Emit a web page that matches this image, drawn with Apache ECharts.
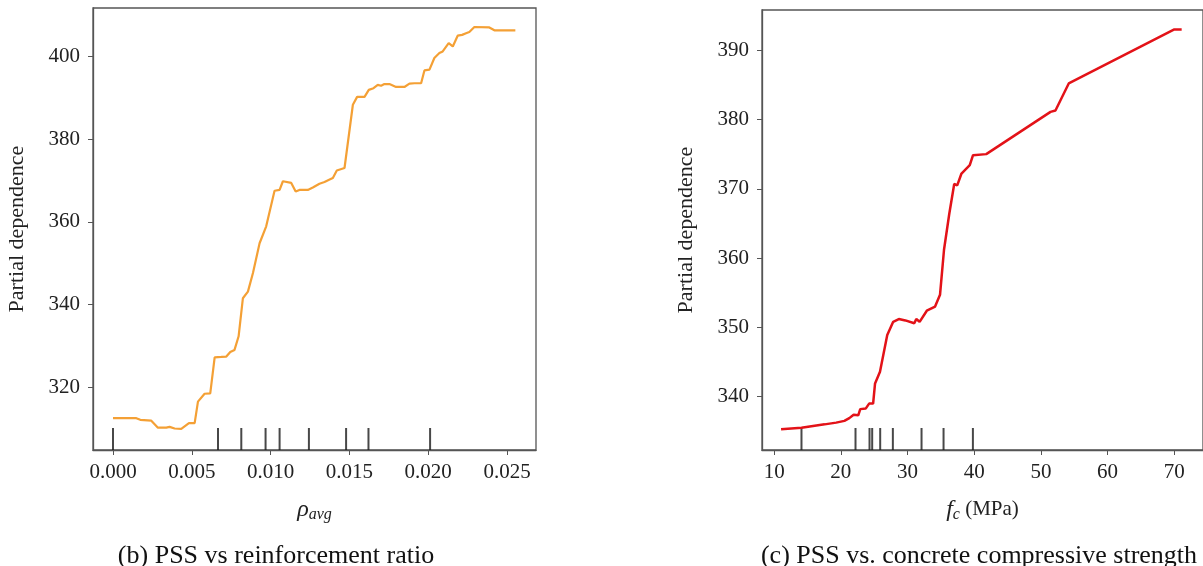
<!DOCTYPE html>
<html>
<head>
<meta charset="utf-8">
<script src="https://cdn.jsdelivr.net/npm/echarts@6/dist/echarts.min.js"></script>
<style>
  html, body { margin: 0; padding: 0; background: #fff; }
  #main { width: 1203px; height: 566px; }
</style>
</head>
<body>
<div id="main"></div>
<script>
// (b) partial dependence vs reinforcement ratio
var rhoX = [0, 0.00148, 0.00173, 0.00243, 0.00285, 0.00338, 0.00359, 0.00391, 0.00433, 0.00482,
  0.00518, 0.00539, 0.00581, 0.00617, 0.00645, 0.00687, 0.00719, 0.00744, 0.00771, 0.00797,
  0.00824, 0.00856, 0.00888, 0.00930, 0.00972, 0.01025, 0.01057, 0.01078, 0.01131, 0.01159,
  0.01183, 0.01236, 0.01268, 0.01310, 0.01342, 0.01374, 0.01395, 0.01420, 0.01469, 0.01522,
  0.01549, 0.01596, 0.01623, 0.01653, 0.01680, 0.01701, 0.01722, 0.01754, 0.01796, 0.01849,
  0.01881, 0.01913, 0.01955, 0.01976, 0.02008, 0.02039, 0.02071, 0.02092, 0.02130, 0.02156,
  0.02187, 0.02215, 0.02240, 0.02261, 0.02293, 0.02388, 0.02420, 0.02553];
var rhoPD = [312.5, 312.5, 312.1, 311.9, 310.2, 310.2, 310.4, 310.0, 309.9, 311.3,
  311.3, 316.5, 318.4, 318.5, 327.2, 327.3, 327.4, 328.5, 329.0, 332.3,
  341.5, 343.1, 347.6, 354.8, 358.9, 367.5, 367.7, 369.8, 369.4, 367.3,
  367.7, 367.7, 368.3, 369.2, 369.6, 370.2, 370.6, 372.4, 373.0, 388.3,
  390.2, 390.2, 391.9, 392.3, 393.1, 392.9, 393.3, 393.3, 392.6, 392.6,
  393.4, 393.5, 393.5, 396.6, 396.8, 399.6, 400.8, 401.2, 403.2, 402.4,
  405.0, 405.2, 405.6, 405.9, 407.1, 407.0, 406.3, 406.3];
var rhoDeciles = [0, 0.00666, 0.00814, 0.00968, 0.01057, 0.01243, 0.01479, 0.01621, 0.02012];
var rhoXTicks = [0, 0.005, 0.010, 0.015, 0.020, 0.025];
var rhoYTicks = [320, 340, 360, 380, 400];

// (c) partial dependence vs concrete compressive strength
var fcX = [11.04, 14.10, 16.08, 17.57, 19.30, 20.53, 21.27, 21.92, 22.61, 22.91,
  23.75, 24.24, 24.84, 25.13, 25.87, 26.96, 27.85, 28.69, 29.68, 31.01,
  31.31, 31.81, 32.89, 34.13, 34.87, 35.47, 36.26, 37.00, 37.45, 38.09,
  39.33, 39.82, 41.80, 51.44, 52.18, 54.17, 70.0, 71.1];
var fcPD = [335.3, 335.5, 335.8, 336.0, 336.25, 336.5, 336.9, 337.4, 337.3, 338.2,
  338.3, 339.0, 339.0, 341.9, 343.6, 348.9, 350.8, 351.2, 351.0, 350.6,
  351.2, 350.8, 352.4, 353.0, 354.7, 361.2, 366.4, 370.7, 370.5, 372.2,
  373.4, 374.85, 375.0, 381.1, 381.3, 385.2, 393.0, 393.0];
var fcDeciles = [14.1, 22.2, 24.3, 24.7, 25.9, 27.8, 32.1, 35.4, 39.8];
var fcXTicks = [10, 20, 30, 40, 50, 60, 70];
var fcYTicks = [340, 350, 360, 370, 380, 390];

var serif = "'Liberation Serif', 'Times New Roman', serif";
var axisGray = '#555';

function pairs(xs, ys) {
  return xs.map(function (x, i) { return [x, ys[i]]; });
}

function xAxisCfg(idx, min, max, ticks, digits, name) {
  return {
    type: 'value', gridIndex: idx, min: min, max: max,
    name: name, nameLocation: 'middle', nameGap: 46,
    nameTextStyle: {
      fontFamily: serif, fontSize: 22, color: '#222',
      rich: {
        i: { fontFamily: serif, fontStyle: 'italic', fontSize: 24, color: '#222' },
        s: { fontFamily: serif, fontStyle: 'italic', fontSize: 16, color: '#222', padding: [11, 0, 0, 0] },
        t: { fontFamily: serif, fontSize: 21, color: '#222' }
      }
    },
    splitLine: { show: false },
    axisLine: { show: true, onZero: false, lineStyle: { color: axisGray, width: 1.3 } },
    axisTick: { show: true, length: 5, customValues: ticks, lineStyle: { color: axisGray } },
    axisLabel: {
      customValues: ticks, margin: 12, fontFamily: serif, fontSize: 21, color: '#222',
      formatter: function (v) { return v.toFixed(digits); }
    }
  };
}

function yAxisCfg(idx, min, max, ticks) {
  return {
    type: 'value', gridIndex: idx, min: min, max: max,
    name: 'Partial dependence', nameLocation: 'middle', nameGap: 65,
    nameTextStyle: { fontFamily: serif, fontSize: 22, color: '#222' },
    splitLine: { show: false },
    axisLine: { show: true, onZero: false, lineStyle: { color: axisGray, width: 1.3 } },
    axisTick: { show: true, length: 5, customValues: ticks, lineStyle: { color: axisGray } },
    axisLabel: { customValues: ticks, margin: 13, fontFamily: serif, fontSize: 21, color: '#222' }
  };
}

function rug(idx, xs, ymin) {
  return {
    type: 'scatter', xAxisIndex: idx, yAxisIndex: idx, silent: true,
    symbol: 'rect', symbolSize: [2, 22], symbolOffset: [0, -11],
    itemStyle: { color: '#1a1a1a' },
    data: xs.map(function (x) { return [x, ymin]; }),
    z: 3
  };
}

var yMinL = 304.8, yMinR = 332.3;

var myChart = echarts.init(document.getElementById('main'));
var option = {
  backgroundColor: '#fff',
  animation: false,
  title: [
    { text: '(b) PSS vs reinforcement ratio', left: 271, top: 538, textAlign: 'center',
      textStyle: { fontFamily: serif, fontSize: 26, fontWeight: 'normal', color: '#111' } },
    { text: '(c) PSS vs. concrete compressive strength', left: 974, top: 538, textAlign: 'center',
      textStyle: { fontFamily: serif, fontSize: 26, fontWeight: 'normal', color: '#111' } }
  ],
  grid: [
    { left: 93, top: 8, width: 443, height: 442, show: true, borderColor: axisGray, borderWidth: 1.3 },
    { left: 762, top: 10, width: 446, height: 440, show: true, borderColor: axisGray, borderWidth: 1.3 }
  ],
  xAxis: [
    xAxisCfg(0, -0.00127, 0.02684, rhoXTicks, 3, '{i|ρ}{s|avg}'),
    xAxisCfg(1, 8.18, 74.3, fcXTicks, 0, '{i|f}{s|c}{t| (MPa)}')
  ],
  yAxis: [
    yAxisCfg(0, yMinL, 411.7, rhoYTicks),
    yAxisCfg(1, yMinR, 395.8, fcYTicks)
  ],
  series: [
    {
      type: 'line', xAxisIndex: 0, yAxisIndex: 0, data: pairs(rhoX, rhoPD),
      showSymbol: false, lineStyle: { color: '#f4a035', width: 2.2 }, z: 4
    },
    {
      type: 'line', xAxisIndex: 1, yAxisIndex: 1, data: pairs(fcX, fcPD),
      showSymbol: false, lineStyle: { color: '#e31218', width: 2.5 }, z: 4
    },
    rug(0, rhoDeciles, yMinL),
    rug(1, fcDeciles, yMinR)
  ]
};
myChart.setOption(option, true);
window.addEventListener('resize', function () {
  myChart.resize();
});
</script>
</body>
</html>
